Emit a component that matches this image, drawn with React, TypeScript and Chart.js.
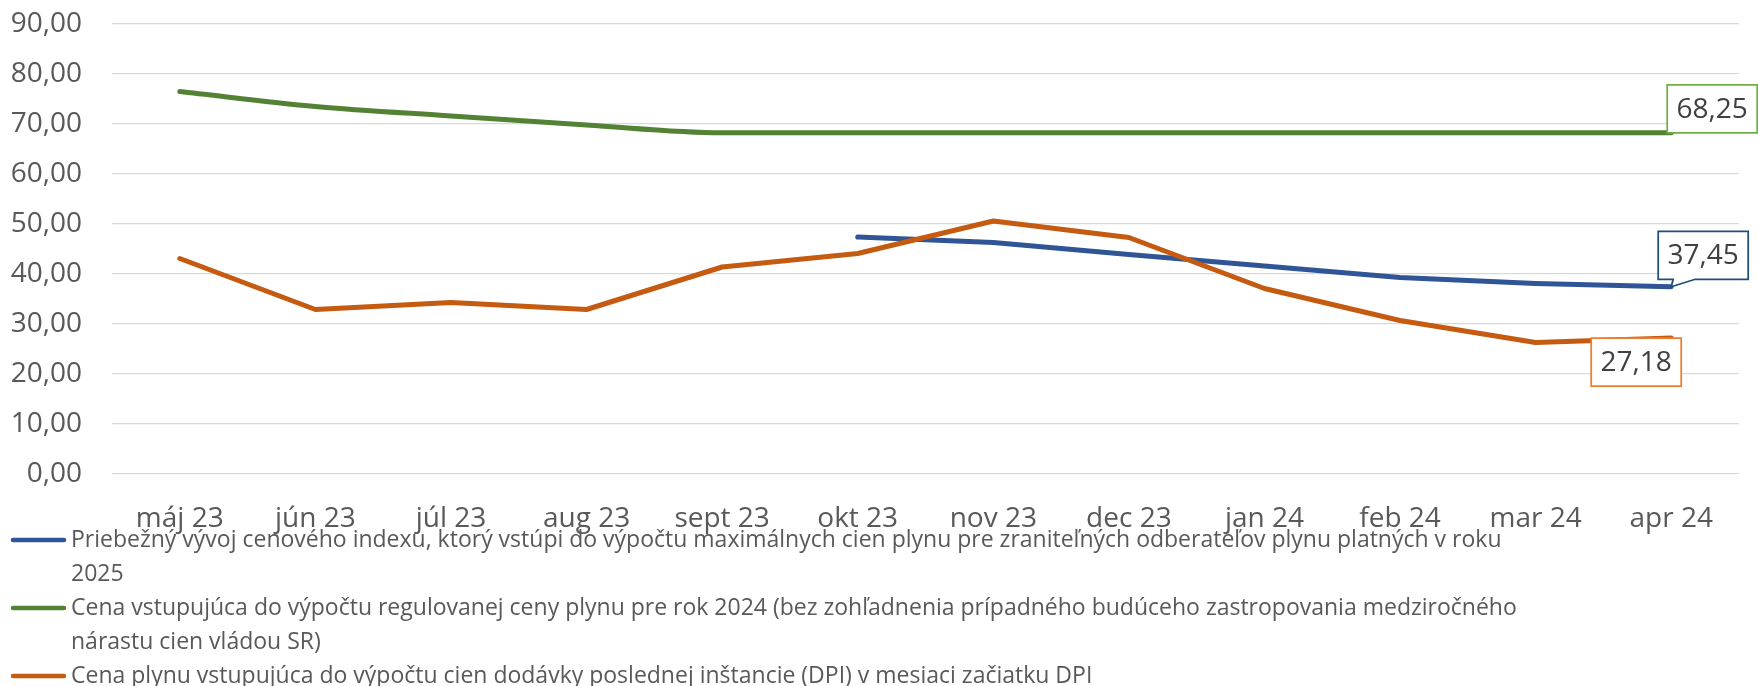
import React, { useEffect, useRef } from "react";
import { Chart, registerables } from "chart.js";

Chart.register(...registerables);

const CATEGORIES = ["máj 23", "jún 23", "júl 23", "aug 23", "sept 23", "okt 23", "nov 23", "dec 23", "jan 24", "feb 24", "mar 24", "apr 24"];
const INDEX_VALUES = [null, null, null, null, null, 47.4, 46.3, 43.9, 41.6, 39.3, 38.1, 37.45];
const REGULATED_VALUES = [76.5, 73.5, 71.6, 69.8, 68.25, 68.25, 68.25, 68.25, 68.25, 68.25, 68.25, 68.25];
const DPI_VALUES = [43.1, 32.9, 34.3, 32.9, 41.4, 44.1, 50.6, 47.3, 37.1, 30.7, 26.3, 27.18];
const SERIES_LABELS = [
  "Priebežný vývoj cenového indexu, ktorý vstúpi do výpočtu maximálnych cien plynu pre zraniteľných odberateľov plynu platných v roku 2025",
  "Cena vstupujúca do výpočtu regulovanej ceny plynu pre rok 2024 (bez zohľadnenia prípadného budúceho zastropovania medziročného nárastu cien vládou SR)",
  "Cena plynu vstupujúca do výpočtu cien dodávky poslednej inštancie (DPI) v mesiaci začiatku DPI",
];
const Y_MIN = 0;
const Y_MAX = 90;
const Y_STEP = 10;

const COLORS = ["#2F5597", "#548235", "#C55A11"];
const LABEL_BORDERS = ["#1F4E79", "#70AD47", "#ED7D31"];
const FONT = "'Open Sans', sans-serif";
const fmt = (v: number) => v.toFixed(2).replace(".", ",");

const endLabelPlugin = {
  id: "endLabels",
  afterDatasetsDraw(chart: any) {
    const ctx = chart.ctx;
    const w = 90;
    const h = 48;
    ctx.save();
    ctx.font = `28px ${FONT}`;
    ctx.textAlign = "center";
    ctx.textBaseline = "middle";
    for (let i = 0; i < 3; i++) {
      const meta = chart.getDatasetMeta(i);
      const pts = meta.data;
      const pt = pts[pts.length - 1];
      const data = chart.data.datasets[i].data;
      const v = data[data.length - 1];
      const px = pt.x;
      const py = pt.y;
      let left = 0;
      let top = 0;
      ctx.beginPath();
      if (i === 1) {
        left = px - 4;
        top = py - h;
        ctx.rect(left, top, w, h);
      } else if (i === 0) {
        left = px - 13;
        top = py - 55.5;
        const bottom = top + h;
        ctx.moveTo(left, top);
        ctx.lineTo(left + w, top);
        ctx.lineTo(left + w, bottom);
        ctx.lineTo(left + 37, bottom);
        ctx.lineTo(px, py);
        ctx.lineTo(left + 15, bottom);
        ctx.lineTo(left, bottom);
        ctx.closePath();
      } else {
        left = px - 80;
        top = py;
        ctx.rect(left, top, w, h);
      }
      ctx.fillStyle = "#ffffff";
      ctx.fill();
      ctx.lineWidth = 1.75;
      ctx.strokeStyle = LABEL_BORDERS[i];
      ctx.stroke();
      ctx.fillStyle = "#404040";
      ctx.fillText(fmt(v), left + w / 2, top + h / 2 + 1);
    }
    ctx.restore();
  },
};

const legendPlugin = {
  id: "wrapLegend",
  afterDraw(chart: any) {
    const ctx = chart.ctx;
    ctx.save();
    ctx.font = `23px ${FONT}`;
    ctx.textAlign = "left";
    ctx.textBaseline = "middle";
    const textX = 71;
    const maxW = 1470;
    const lineH = 34;
    let y = 540;
    for (let i = 0; i < SERIES_LABELS.length; i++) {
      ctx.strokeStyle = COLORS[i];
      ctx.lineWidth = 4.5;
      ctx.lineCap = "round";
      ctx.beginPath();
      ctx.moveTo(13, y);
      ctx.lineTo(64, y);
      ctx.stroke();
      const words = SERIES_LABELS[i].split(" ");
      const lines: string[] = [];
      let cur = "";
      for (const wd of words) {
        const test = cur ? cur + " " + wd : wd;
        if (ctx.measureText(test).width > maxW && cur) {
          lines.push(cur);
          cur = wd;
        } else cur = test;
      }
      if (cur) lines.push(cur);
      ctx.fillStyle = "#595959";
      for (const ln of lines) {
        ctx.fillText(ln, textX, y);
        y += lineH;
      }
    }
    ctx.restore();
  },
};

export default function App() {
  const ref = useRef<HTMLCanvasElement | null>(null);
  useEffect(() => {
    if (!ref.current) return;
    const chart = new Chart(ref.current, {
      type: "line",
      data: {
        labels: CATEGORIES,
        datasets: [
          { label: SERIES_LABELS[0], data: INDEX_VALUES, borderColor: COLORS[0], order: 2 },
          { label: SERIES_LABELS[1], data: REGULATED_VALUES, borderColor: COLORS[1], order: 1, tension: 0.3, cubicInterpolationMode: "monotone" },
          { label: SERIES_LABELS[2], data: DPI_VALUES, borderColor: COLORS[2], order: 0 },
        ].map((d: any) => ({
          ...d,
          borderWidth: 5,
          pointRadius: 0,
          fill: false,
          borderCapStyle: "round",
          borderJoinStyle: "round",
          spanGaps: false,
        })),
      },
      options: {
        animation: false,
        responsive: false,
        layout: { padding: { left: 0, right: 19, top: 24, bottom: 0 } },
        plugins: { legend: { display: false }, tooltip: { enabled: false } },
        scales: {
          x: {
            offset: true,
            grid: { display: false, drawTicks: false },
            border: { display: false },
            ticks: { color: "#595959", font: { family: FONT, size: 28 }, padding: 28, maxRotation: 0, autoSkip: false },
            afterFit: (s: any) => { s.height = 212; },
          },
          y: {
            min: Y_MIN,
            max: Y_MAX,
            grid: { color: "#D9D9D9", lineWidth: 1.3, drawTicks: false },
            border: { display: false },
            ticks: { stepSize: Y_STEP, color: "#595959", font: { family: FONT, size: 28 }, padding: 30, callback: (v: any) => fmt(Number(v)) },
            afterFit: (s: any) => { s.width = 112; s.paddingTop = 0; s.paddingBottom = 0; },
          },
        },
      },
      plugins: [endLabelPlugin, legendPlugin],
    } as any);
    return () => chart.destroy();
  }, []);
  return (
    <div style={{ position: "fixed", left: 0, top: 0, width: 1758, height: 686, background: "#fff" }}>
      <canvas ref={ref} width={1758} height={686} style={{ display: "block" }} />
    </div>
  );
}
